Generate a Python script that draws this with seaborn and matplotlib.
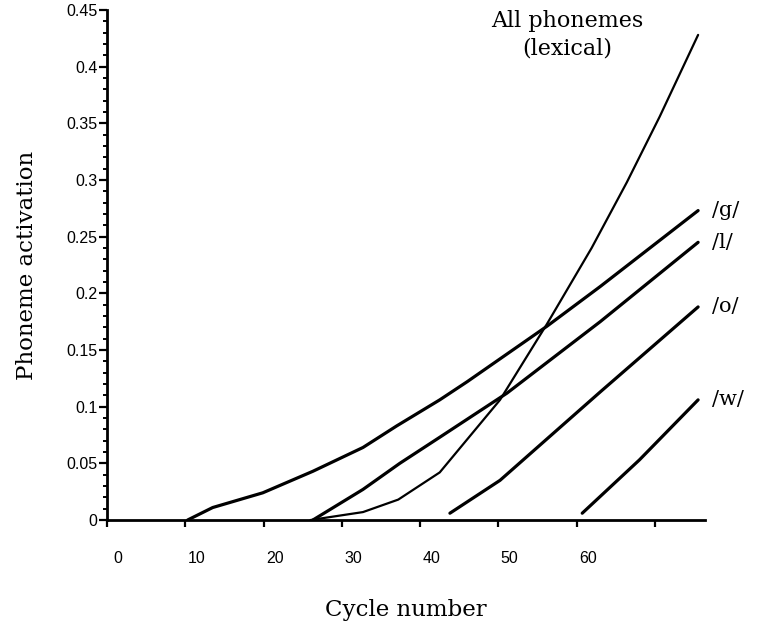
import matplotlib

matplotlib.use("Agg")
import matplotlib.pyplot as plt
import matplotlib.transforms as mtransforms
from matplotlib.ticker import MultipleLocator, FuncFormatter
import pandas as pd
import seaborn as sns

# values (cycle number, activation)
cycle_g = [10.3, 13.5, 19.9, 26.3, 32.7, 37.0, 42.5, 46.0, 56.2, 63.0, 75.5]
act_g = [0.0, 0.011, 0.024, 0.043, 0.064, 0.083, 0.106, 0.122, 0.171, 0.206, 0.273]

cycle_l = [26.3, 32.7, 37.4, 42.5, 51.1, 63.0, 75.5]
act_l = [0.0, 0.027, 0.050, 0.073, 0.112, 0.175, 0.245]

cycle_o = [43.8, 50.2, 56.6, 63.0, 75.5]
act_o = [0.006, 0.035, 0.074, 0.113, 0.188]

cycle_w = [60.7, 68.0, 75.5]
act_w = [0.006, 0.053, 0.106]

cycle_lex = [26.0, 32.7, 37.2, 42.5, 50.2, 56.2, 61.9, 66.4, 70.6, 75.5]
act_lex = [0.0, 0.007, 0.018, 0.042, 0.106, 0.173, 0.240, 0.298, 0.356, 0.428]

phoneme_labels = ["/g/", "/l/", "/o/", "/w/"]
lexical_label = "All phonemes\n(lexical)"

x_ticks = [0, 10, 20, 30, 40, 50, 60, 70]
x_ticklabels = ["0", "10", "20", "30", "40", "50", "60", ""]

SERIF = "DejaVu Serif"
SANS = "Liberation Sans"

sns.set_style("ticks")
plt.rcParams["font.family"] = [SANS, "DejaVu Sans"]
plt.rcParams["text.color"] = "black"
plt.rcParams["axes.labelcolor"] = "black"
plt.rcParams["xtick.color"] = "black"
plt.rcParams["ytick.color"] = "black"

fig = plt.figure(figsize=(7.62, 6.31), dpi=100)
ax = fig.add_axes([0.1404, 0.1759, 0.785, 0.8083])

series = [
    (cycle_g, act_g, phoneme_labels[0]),
    (cycle_l, act_l, phoneme_labels[1]),
    (cycle_o, act_o, phoneme_labels[2]),
    (cycle_w, act_w, phoneme_labels[3]),
]
for xs, ys, name in series:
    df = pd.DataFrame({"cycle": xs, "act": ys})
    sns.lineplot(data=df, x="cycle", y="act", color="black", lw=2.3,
                 sort=False, ax=ax)
    ax.annotate(name, xy=(xs[-1], ys[-1]), xytext=(10, 0),
                textcoords="offset points", ha="left", va="center",
                family=SERIF, fontsize=15)

lex = pd.DataFrame({"cycle": cycle_lex, "act": act_lex})
sns.lineplot(data=lex, x="cycle", y="act", color="black", lw=1.6,
             sort=False, ax=ax)
ax.annotate(lexical_label, xy=(cycle_lex[-1], act_lex[-1]), xytext=(-94, 0),
            textcoords="offset points", ha="center", va="center",
            multialignment="center", family=SERIF, fontsize=16,
            linespacing=1.3)

ax.set_xlim(0, 76.4)
ax.set_ylim(0, 0.45)

ax.yaxis.set_major_locator(MultipleLocator(0.05))
ax.yaxis.set_minor_locator(MultipleLocator(0.01))
ax.yaxis.set_major_formatter(FuncFormatter(lambda v, _: f"{v:g}"))
ax.set_xticks(x_ticks)
ax.set_xticklabels(x_ticklabels)

ax.tick_params(axis="y", which="major", direction="out", length=6, width=1.6,
               pad=1, labelsize=11.5)
ax.tick_params(axis="y", which="minor", direction="out", length=3, width=1.4)
ax.tick_params(axis="x", which="major", direction="out", length=5, width=1.6,
               pad=17, labelsize=11.5)

# x tick labels in the original sit a bit right of their ticks
shift = mtransforms.ScaledTranslation(11 / 100, 0, fig.dpi_scale_trans)
for lab in ax.get_xticklabels():
    lab.set_transform(lab.get_transform() + shift)

for side in ["top", "right"]:
    ax.spines[side].set_visible(False)
for side in ["left", "bottom"]:
    ax.spines[side].set_linewidth(2.0)
    ax.spines[side].set_color("black")

ax.set_xlabel("Cycle number", family=SERIF, fontsize=16.5, labelpad=24)
ax.set_ylabel("Phoneme activation", family=SERIF, fontsize=16.5, labelpad=20)

fig.savefig("out.png", dpi=100)
plt.close(fig)
